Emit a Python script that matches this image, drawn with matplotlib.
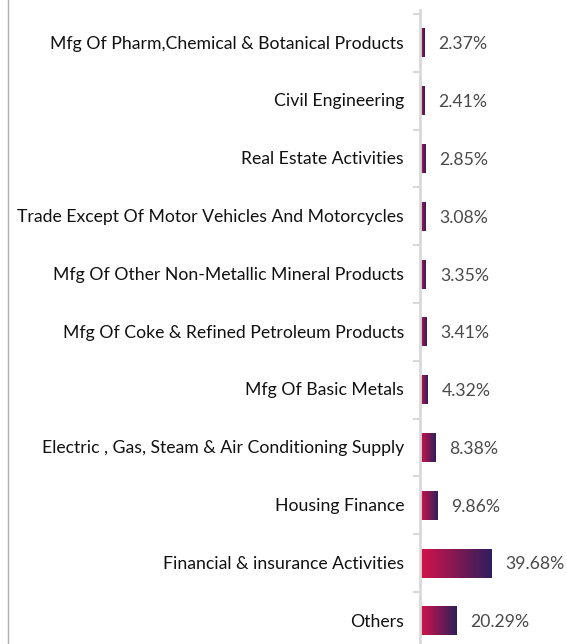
import numpy as np
import matplotlib
matplotlib.use("Agg")
import matplotlib.pyplot as plt
from matplotlib.colors import LinearSegmentedColormap
from matplotlib.lines import Line2D

# ── Data ───────────────────────────────────────────────────────────────────────
sectors = [
    "Mfg Of Pharm,Chemical & Botanical Products",
    "Civil Engineering",
    "Real Estate Activities",
    "Trade Except Of Motor Vehicles And Motorcycles",
    "Mfg Of Other Non-Metallic Mineral Products",
    "Mfg Of Coke & Refined Petroleum Products",
    "Mfg Of Basic Metals",
    "Electric , Gas, Steam & Air Conditioning Supply",
    "Housing Finance",
    "Financial & insurance Activities",
    "Others",
]
weights = [2.37, 2.41, 2.85, 3.08, 3.35, 3.41, 4.32, 8.38, 9.86, 39.68, 20.29]

# ── Style ──────────────────────────────────────────────────────────────────────
LABEL_CLR = "#111111"
VALUE_CLR = "#4a4a4a"
AXIS_CLR  = "#d9d9d9"
grad = LinearSegmentedColormap.from_list("bar", ["#d6124a", "#2e1f5c"])
plt.rcParams["font.family"] = ["Lato", "DejaVu Sans"]

W, H = 567, 644
fig = plt.figure(figsize=(W / 100, H / 100), dpi=100)

# axes spans from the axis line to the right edge
ax_left, ax_top = 420, 10
ax = fig.add_axes([ax_left / W, 0, 1 - ax_left / W, 1 - ax_top / H])

y = np.arange(len(sectors))
bars = ax.barh(y, weights, height=0.5, color="none", linewidth=0)

# gradient fill, one ramp per bar
ramp = np.linspace(0, 1, 256).reshape(1, -1)
for rect in bars:
    x0, y0 = rect.get_x(), rect.get_y()
    ax.imshow(ramp, cmap=grad, aspect="auto", interpolation="bilinear",
              extent=(x0, x0 + rect.get_width(), y0 + rect.get_height(), y0),
              zorder=2)

for yi, v in zip(y, weights):
    ax.annotate(f"{v:.2f}%", (v, yi), xytext=(10, -1), textcoords="offset points",
                ha="left", va="center", fontsize=12.7, color=VALUE_CLR)
    ax.annotate(sectors[yi], (0, yi), xytext=(-11.5, -0.5), textcoords="offset points",
                ha="right", va="center", fontsize=12.7, color=LABEL_CLR,
                annotation_clip=False)

ax.set_xlim(0, (W - ax_left) / 1.79)
ax.set_ylim(10.4, -0.571)

for side in ["top", "right", "bottom"]:
    ax.spines[side].set_visible(False)
ax.spines["left"].set_color(AXIS_CLR)
ax.spines["left"].set_linewidth(2)
ax.set_xticks([])
ax.set_yticks(np.arange(-0.5, len(sectors) - 0.5, 1))
ax.tick_params(axis="y", length=5, width=1.5, color=AXIS_CLR, labelleft=False)
ax.patch.set_alpha(0)

# thin frame line on the far left
fig.add_artist(Line2D([7.5 / W, 7.5 / W], [0, 1], color="#b0b0b0", lw=1))

fig.savefig("out.png", dpi=100)
